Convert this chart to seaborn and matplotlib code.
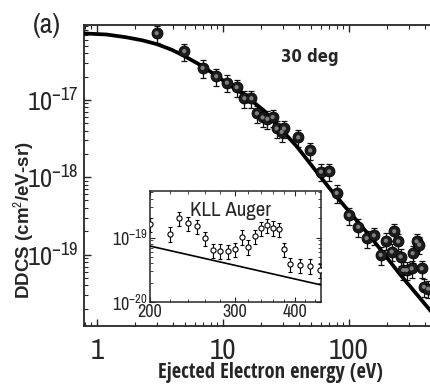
import numpy as np
import pandas as pd
import seaborn as sns
import matplotlib.pyplot as plt
from matplotlib.ticker import LogLocator, NullFormatter, FixedLocator, FixedFormatter, FuncFormatter

# 30 deg DDCS, measured points (eV, cm^2/eV-sr)
exp_energy = [2.98, 4.93, 6.90, 8.85, 10.76, 12.84, 14.81, 16.84, 18.62, 20.66,
              22.55, 24.80, 26.68, 29.24, 30.49, 39.6, 49.3, 59.9, 69.7, 79.9,
              100, 118.5, 138.2, 157.9, 178.5, 196.7, 218.3, 228.8, 246.2, 257.3,
              269.8, 287.1, 314.5, 320.3, 344.6, 361.4, 377.6, 393.8, 426.0]
exp_ddcs = [7.3e-17, 4.27e-17, 2.59e-17, 2.02e-17, 1.67e-17, 1.46e-17, 1.05e-17, 1.05e-17, 6.70e-18, 5.94e-18,
            5.68e-18, 6.00e-18, 4.27e-18, 3.85e-18, 4.27e-18, 3.28e-18, 2.22e-18, 1.18e-18, 1.19e-18, 6.27e-19,
            3.24e-19, 2.28e-19, 1.63e-19, 1.77e-19, 9.9e-20, 1.51e-19, 1.09e-19, 2.00e-19, 1.48e-19, 9.4e-20,
            6.31e-20, 6.31e-20, 6.62e-20, 1.04e-19, 1.48e-19, 1.34e-19, 6.62e-20, 3.82e-20, 3.62e-20]

# theory curve
fit_energy = [0.79, 1.2, 1.7, 2.3, 3.0, 3.9, 4.9, 6.9, 10.7, 14.8, 20.9, 38.5, 70.7, 150, 250, 440, 700]
fit_ddcs = [7.24e-17, 7.0e-17, 6.46e-17, 5.89e-17, 5.25e-17, 4.47e-17, 3.72e-17, 2.72e-17, 1.66e-17,
            1.16e-17, 7.41e-18, 2.51e-18, 7.08e-19, 1.66e-19, 5.75e-20, 1.91e-20, 7.8e-21]

# inset: KLL Auger region
kll_energy = [200, 220, 230, 240, 250, 260, 270, 280, 290, 300, 310,
              320, 330, 340, 350, 360, 370, 380, 390, 410, 430, 450]
kll_ddcs = [1.60e-19, 1.15e-19, 1.99e-19, 1.66e-19, 1.51e-19, 9.7e-20, 6.4e-20, 6.24e-20, 6.18e-20, 6.56e-20, 1.03e-19,
            7.2e-20, 1.05e-19, 1.39e-19, 1.56e-19, 1.42e-19, 1.34e-19, 6.56e-20, 3.84e-20, 3.75e-20, 3.66e-20, 3.13e-20]
kll_fit_energy = [200, 300, 453]
kll_fit_ddcs = [7.38e-20, 3.71e-20, 1.84e-20]

rel_err = 0.25

sns.set_style("ticks")
narrow = ["Archivo Narrow", "Roboto Condensed", "DejaVu Sans"]
plt.rcParams["font.family"] = narrow
plt.rcParams["mathtext.fontset"] = "custom"
plt.rcParams["mathtext.rm"] = "Archivo Narrow"
plt.rcParams["mathtext.it"] = "Archivo Narrow:italic"
plt.rcParams["mathtext.bf"] = "Archivo Narrow:bold"

df = pd.DataFrame({"energy": exp_energy, "ddcs": exp_ddcs})
fit = pd.DataFrame({"energy": fit_energy, "ddcs": fit_ddcs})
kll = pd.DataFrame({"energy": kll_energy, "ddcs": kll_ddcs})
kll_fit = pd.DataFrame({"energy": kll_fit_energy, "ddcs": kll_fit_ddcs})

fig = plt.figure(figsize=(4.3, 3.87), dpi=100)
ax = fig.add_axes([0.1953, 0.1576, 0.865, 0.7778])

# main panel
ax.errorbar(df["energy"], df["ddcs"], yerr=rel_err * df["ddcs"], fmt="none",
            ecolor="#111111", elinewidth=0.9, capsize=2.5, capthick=0.9, zorder=2)
sns.lineplot(data=fit, x="energy", y="ddcs", ax=ax, color="black", lw=2.7,
             estimator=None, sort=False, zorder=3)
sns.scatterplot(data=df, x="energy", y="ddcs", ax=ax, color="#1c1c1c", edgecolor="black",
                s=62, linewidth=0.6, zorder=4)
sns.scatterplot(data=df, x="energy", y="ddcs", ax=ax, color="#9a9a9a", edgecolor="none",
                s=9, alpha=0.8, zorder=5)

ax.set_xscale("log")
ax.set_yscale("log")
ax.set_xlim(0.79, 707)
ax.set_ylim(1.19e-20, 9.3e-17)
ax.xaxis.set_major_formatter(FuncFormatter(lambda v, p: f"{v:g}"))
ax.yaxis.set_minor_locator(LogLocator(base=10, subs=np.arange(2, 10)))
ax.yaxis.set_minor_formatter(NullFormatter())
ax.xaxis.set_minor_formatter(NullFormatter())
ax.tick_params(which="both", direction="in", top=True, right=True, width=1)
ax.tick_params(which="major", length=5)
ax.tick_params(which="minor", length=3, width=0.8)
ax.tick_params(axis="x", which="major", labelsize=21, pad=8)
ax.tick_params(axis="y", which="major", labelsize=19, pad=4)
for s in ax.spines.values():
    s.set_linewidth(1.3)

ax.set_xlabel("Ejected Electron energy (eV)", fontsize=14.8, fontweight="bold",
              family=["Open Sans Condensed", "DejaVu Sans"])
ax.xaxis.set_label_coords(0.5, -0.118)
ax.set_ylabel("DDCS (cm$^\\mathbf{2}$/eV-sr)", fontsize=13.5, fontweight="bold",
              family=["Liberation Sans", "DejaVu Sans"])
ax.yaxis.set_label_coords(-0.13, 0.352)

ax.text(0.608, 0.893, "30 deg", transform=ax.transAxes, ha="center", va="center",
        fontsize=12, fontweight="bold", family=["DejaVu Sans"], fontstretch="condensed")
fig.text(0.109, 0.933, "(a)", ha="center", va="center", fontsize=20)

# inset
axin = fig.add_axes([0.3488, 0.2196, 0.3977, 0.2868])
axin.set_facecolor("white")
axin.errorbar(kll["energy"], kll["ddcs"], yerr=rel_err * kll["ddcs"], fmt="none",
              ecolor="black", elinewidth=0.8, capsize=1.2, capthick=0.8, zorder=2)
sns.lineplot(data=kll_fit, x="energy", y="ddcs", ax=axin, color="black", lw=1.2,
             estimator=None, sort=False, zorder=3)
sns.scatterplot(data=kll, x="energy", y="ddcs", ax=axin, color="white", edgecolor="black",
                s=14, linewidth=0.8, zorder=4)
axin.set_xscale("log")
axin.set_yscale("log")
axin.set_xlim(200, 453)
axin.set_ylim(1e-20, 5.26e-19)
axin.xaxis.set_major_locator(FixedLocator([200, 300, 400]))
axin.xaxis.set_major_formatter(FixedFormatter(["200", "300", "400"]))
axin.xaxis.set_minor_locator(FixedLocator(np.arange(220, 460, 20)))
axin.xaxis.set_minor_formatter(NullFormatter())
axin.yaxis.set_minor_formatter(NullFormatter())
axin.tick_params(which="both", direction="in", top=True, right=True, labelsize=13, pad=1.5)
axin.tick_params(which="major", length=3.5)
axin.tick_params(which="minor", length=2, width=0.6)
axin.set_xlabel("")
axin.set_ylabel("")
for s in axin.spines.values():
    s.set_linewidth(1.1)
axin.text(0.468, 0.829, "KLL Auger", transform=axin.transAxes, ha="center", va="center",
          fontsize=15)

fig.savefig("out.png", dpi=100)
